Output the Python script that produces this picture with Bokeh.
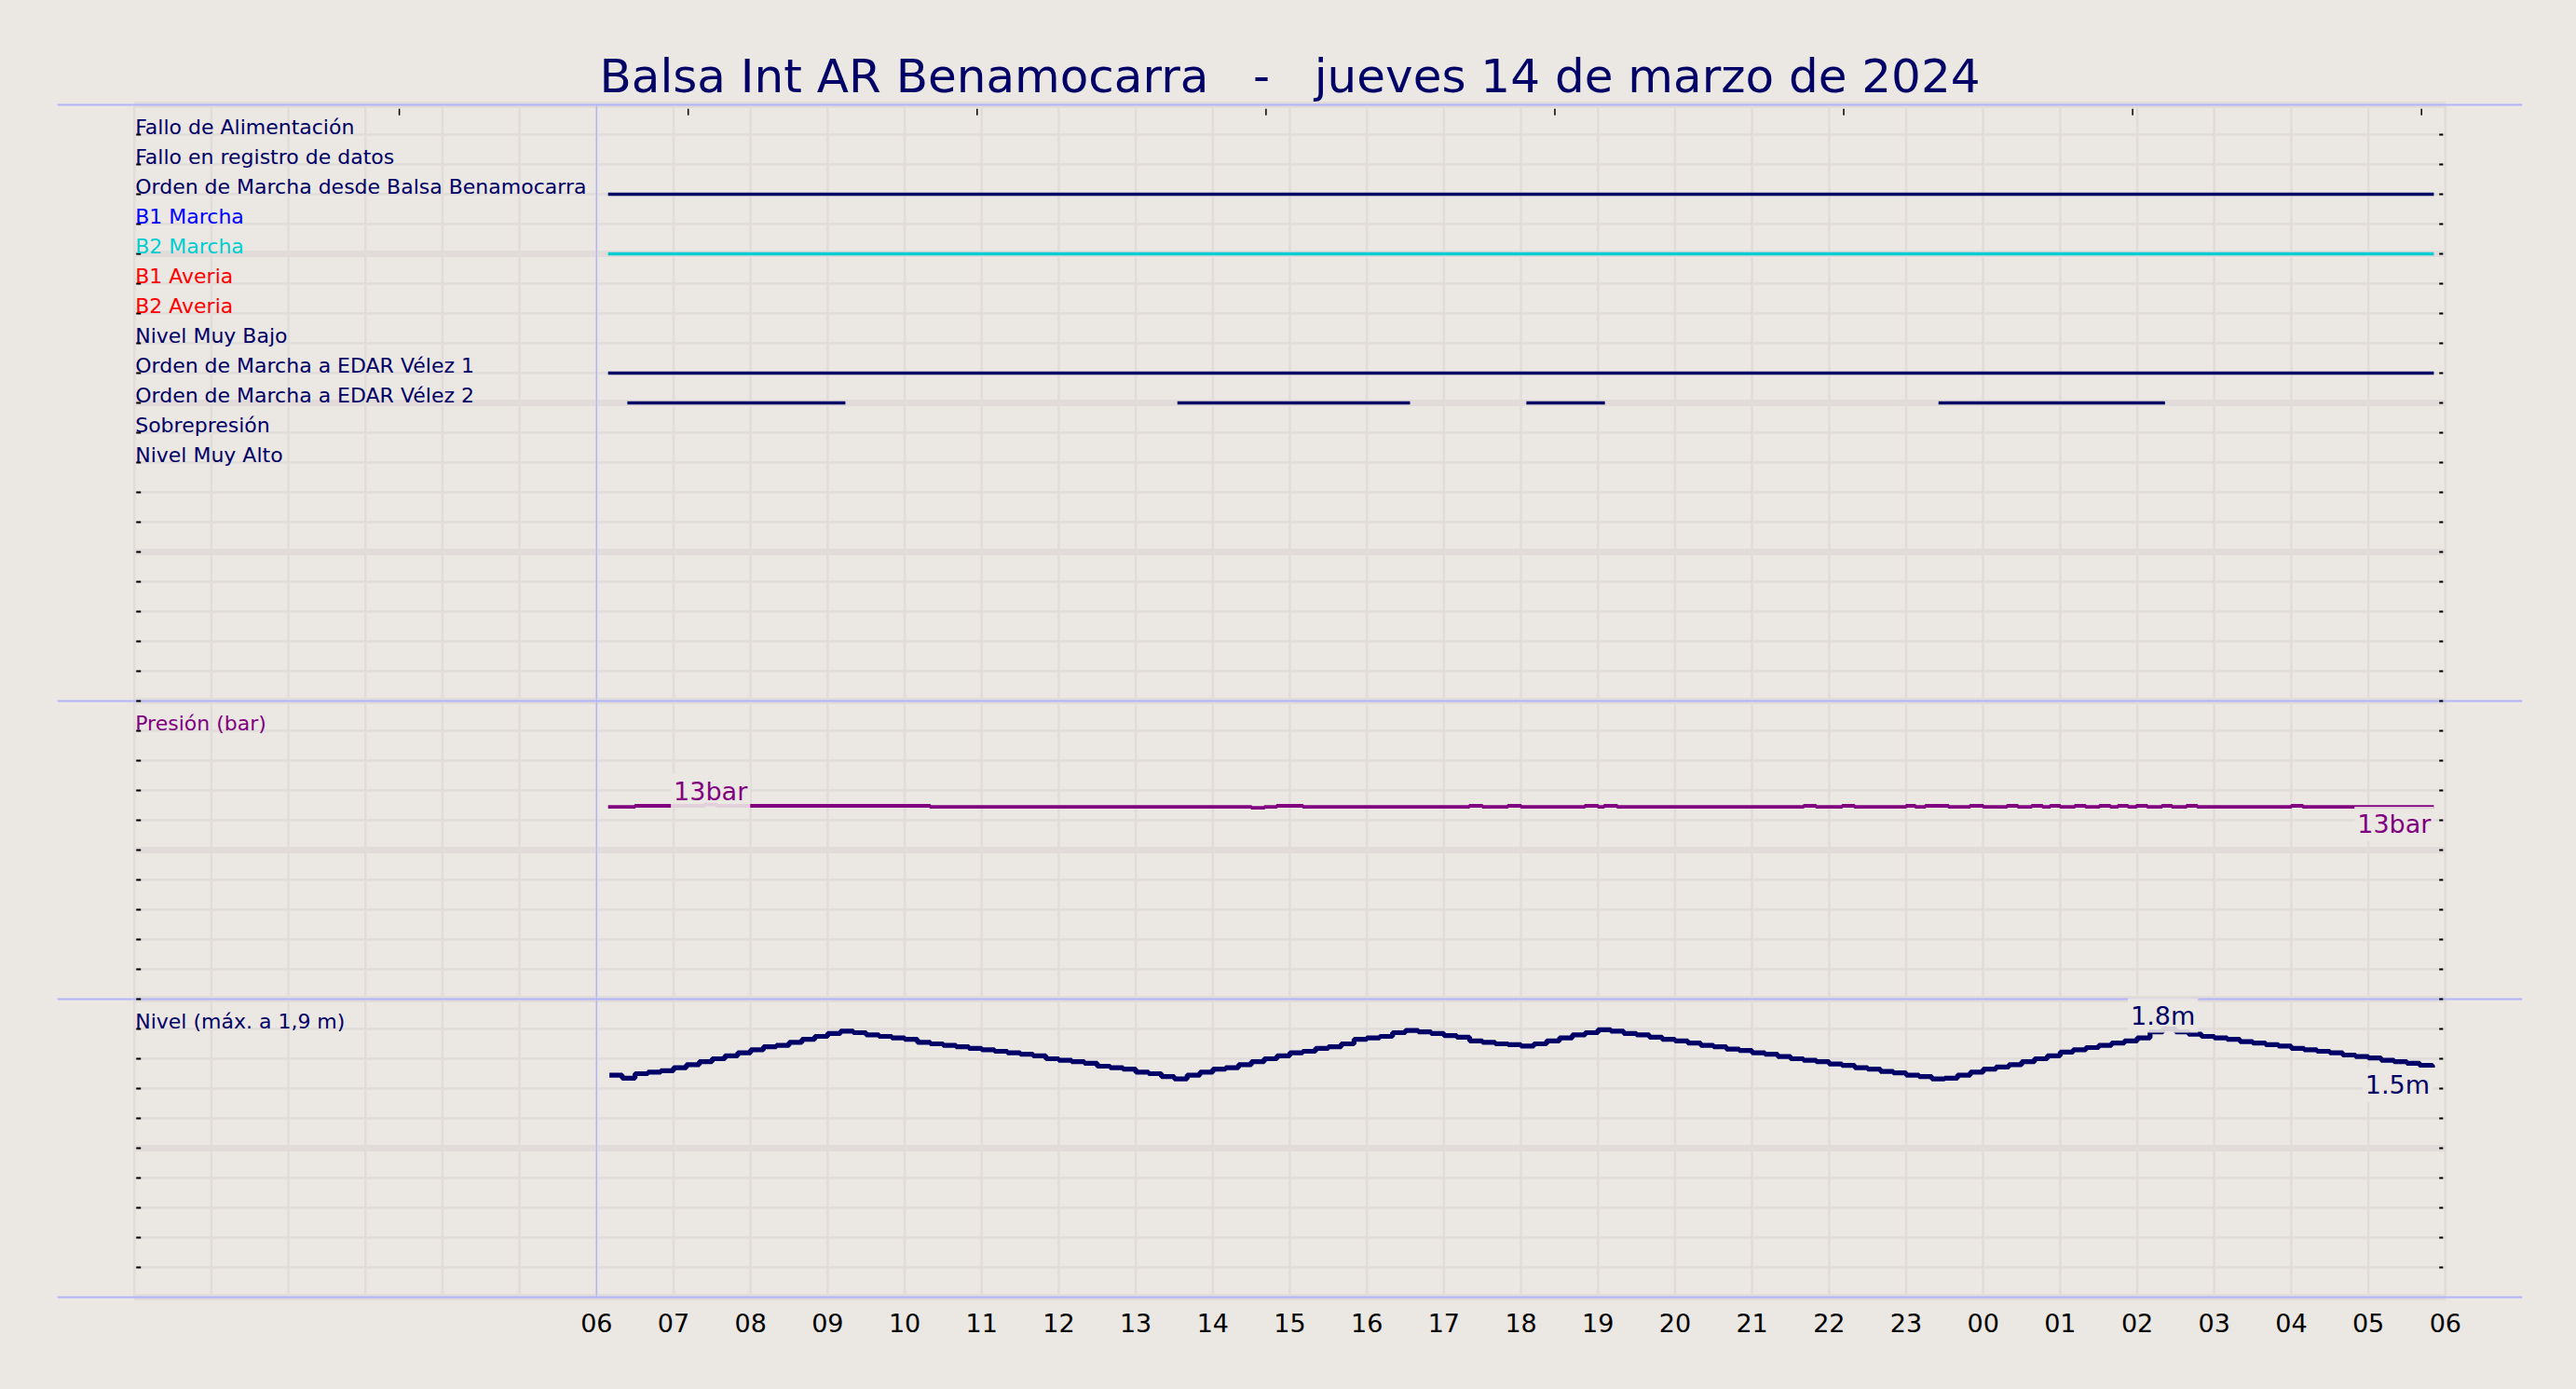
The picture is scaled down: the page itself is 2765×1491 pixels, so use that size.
from bokeh.plotting import figure
from bokeh.models import Range1d, FixedTicker, Label, GlobalInlineStyleSheet
from bokeh.core.properties import value
from bokeh.embed import file_html
from bokeh.resources import INLINE

# ---------------- data ----------------
NB = "\u00a0"
title_text = "Balsa Int AR Benamocarra " + NB * 2 + "-" + NB * 2 + " jueves 14 de marzo de 2024"

tick_hours = list(range(6, 31))
tick_labels = ["06", "07", "08", "09", "10", "11", "12", "13", "14", "15", "16", "17",
               "18", "19", "20", "21", "22", "23", "00", "01", "02", "03", "04", "05", "06"]

row_labels = ["Fallo de Alimentación", "Fallo en registro de datos",
              "Orden de Marcha desde Balsa Benamocarra", "B1 Marcha", "B2 Marcha",
              "B1 Averia", "B2 Averia", "Nivel Muy Bajo", "Orden de Marcha a EDAR Vélez 1",
              "Orden de Marcha a EDAR Vélez 2", "Sobrepresión", "Nivel Muy Alto"]
row_colors = ["#000066", "#000066", "#000066", "#0000ff", "#00ced1", "#ff0000",
              "#ff0000", "#000066", "#000066", "#000066", "#000066", "#000066"]

# digital signals: (start hour, end hour) since 00:00 of 14/03
orden_balsa_on = [(6.15, 29.85)]
b2_marcha_on = [(6.15, 29.85)]
edar1_on = [(6.15, 29.85)]
edar2_on = [(6.40, 9.23), (13.54, 16.56), (18.07, 19.09), (23.42, 26.36)]

# pressure (bar), step changes
pres_t = [6.15, 6.50, 7.40, 7.56, 10.33, 14.50, 14.67, 14.83, 15.17, 17.33, 17.50,
          17.83, 18.00, 18.83, 19.00, 19.08, 19.25, 21.67, 21.83, 22.17, 22.33,
          23.00, 23.12, 23.25, 23.55, 23.83, 24.00, 24.31, 24.45, 24.63, 24.77,
          24.87, 25.00, 25.19, 25.33, 25.51, 25.65, 25.75, 25.88, 25.99, 26.13,
          26.32, 26.45, 26.64, 26.78, 28.00, 28.15, 29.85]
pres_v = [12.90, 12.97, 13.05, 12.97, 12.90, 12.83, 12.90, 12.97, 12.90, 12.97, 12.90,
          12.97, 12.90, 12.97, 12.90, 12.97, 12.90, 12.97, 12.90, 12.97, 12.90,
          12.97, 12.90, 12.97, 12.90, 12.97, 12.90, 12.97, 12.90, 12.97, 12.90,
          12.97, 12.90, 12.97, 12.90, 12.97, 12.90, 12.97, 12.90, 12.97, 12.90,
          12.97, 12.90, 12.97, 12.90, 12.97, 12.90, 12.90]

# level (m), one reading every 10 minutes from 06:10 to 05:50
level_first_hour = 6 + 10 / 60
level_step_hours = 10 / 60
level_values = [
    1.49, 1.47, 1.50, 1.51, 1.52,            # 06:10-06:50
    1.54, 1.56, 1.58, 1.60, 1.62, 1.64,      # 07
    1.66, 1.68, 1.69, 1.71, 1.73, 1.75,      # 08
    1.77, 1.785, 1.775, 1.76, 1.75, 1.74,    # 09
    1.73, 1.71, 1.70, 1.69, 1.68, 1.67,      # 10
    1.66, 1.65, 1.64, 1.63, 1.62, 1.60,      # 11
    1.59, 1.58, 1.57, 1.55, 1.54, 1.53,      # 12
    1.51, 1.50, 1.48, 1.465, 1.49, 1.51,     # 13
    1.53, 1.54, 1.56, 1.58, 1.60, 1.62,      # 14
    1.64, 1.65, 1.67, 1.68, 1.70, 1.73,      # 15
    1.74, 1.75, 1.775, 1.79, 1.78, 1.77,     # 16
    1.755, 1.745, 1.72, 1.71, 1.70, 1.695,   # 17
    1.685, 1.70, 1.72, 1.74, 1.76, 1.775,    # 18
    1.795, 1.785, 1.77, 1.76, 1.745, 1.73,   # 19
    1.72, 1.705, 1.69, 1.68, 1.665, 1.655,   # 20
    1.64, 1.63, 1.615, 1.60, 1.59, 1.58,     # 21
    1.565, 1.555, 1.54, 1.53, 1.515, 1.505,  # 22
    1.49, 1.48, 1.465, 1.47, 1.49, 1.51,     # 23
    1.53, 1.545, 1.56, 1.58, 1.60, 1.62,     # 00
    1.645, 1.66, 1.675, 1.69, 1.705, 1.72,   # 01
    1.74, 1.78, 1.80, 1.78, 1.765, 1.75,     # 02
    1.74, 1.73, 1.715, 1.705, 1.695, 1.685,  # 03
    1.67, 1.66, 1.65, 1.64, 1.625, 1.615,    # 04
    1.605, 1.59, 1.58, 1.57, 1.555, 1.54,    # 05
]
level_t = [level_first_hour + i * level_step_hours for i in range(len(level_values))]

top_tick_hours = [3.44, 7.19, 10.94, 14.69, 18.44, 22.19, 25.94, 29.69]

# ---------------- style ----------------
BG = "#ebe7e2"
GRID = "#e1dcda"
SEP = "#b4b4fa"
NAVY = "#000066"
PURPLE = "#800080"
FONT = "DejaVu Sans"

p = figure(x_range=Range1d(-1, 31), y_range=Range1d(40.25, -3.25),
           frame_width=2646, frame_height=1392,
           min_border_left=61, min_border_right=40, min_border_top=8, min_border_bottom=60,
           y_axis_location=None, toolbar_location=None, output_backend="svg")
p.extra_y_ranges = {"pres": Range1d(-20.5, 66.5), "lvl": Range1d(-0.05, 8.65)}
p.background_fill_color = BG
p.border_fill_color = BG
p.outline_line_color = None
p.grid.visible = False
p.stylesheets = [GlobalInlineStyleSheet(css="html, body { background-color: #ebe7e2; }")]

# grid
units = list(range(41))
thin = [u for u in units if u % 5]
thick = [u for u in units if u % 5 == 0]
hours = list(range(31))
p.segment(x0=0, y0=thin, x1=30, y1=thin, line_color=GRID, line_width=2.3)
p.segment(x0=0, y0=thick, x1=30, y1=thick, line_color=GRID, line_width=7)
p.segment(x0=hours, y0=0, x1=hours, y1=40, line_color=GRID, line_width=2.5)

# separators
seps = [0, 20, 30, 40]
p.segment(x0=-1, y0=seps, x1=31, y1=seps, line_color=SEP, line_width=2)
p.segment(x0=6, y0=0, x1=6, y1=40, line_color=SEP, line_width=1.3)

# small ticks
inner = list(range(1, 40))
p.segment(x0=0.025, y0=inner, x1=0.085, y1=inner, line_color="black", line_width=2)
p.segment(x0=29.92, y0=inner, x1=29.97, y1=inner, line_color="black", line_width=2)
p.segment(x0=top_tick_hours, y0=0.13, x1=top_tick_hours, y1=0.35, line_color="black", line_width=1.5)

# row labels
rows = list(range(1, len(row_labels) + 1))
p.text(x=0, y=rows, text=row_labels, text_color=row_colors, text_font=value(FONT),
       text_font_size="22px", text_baseline="alphabetic", text_align="left",
       x_offset=1, y_offset=-8)
p.text(x=0, y=[21, 31], text=["Presión (bar)", "Nivel (máx. a 1,9 m)"],
       text_color=[PURPLE, NAVY], text_font=value(FONT), text_font_size="22px",
       text_baseline="alphabetic", text_align="left", x_offset=1, y_offset=-8)

# digital signals
signals = [(3, orden_balsa_on, NAVY), (5, b2_marcha_on, "#00ced1"),
           (9, edar1_on, NAVY), (10, edar2_on, NAVY)]
for row, ivs, col in signals:
    p.segment(x0=[a for a, b in ivs], y0=row, x1=[b for a, b in ivs], y1=row,
              line_color=col, line_width=3.5)

# pressure and level
p.step(pres_t, pres_v, mode="after", y_range_name="pres", line_color=PURPLE, line_width=3.8)
p.step(level_t, level_values, mode="after", y_range_name="lvl", line_color=NAVY, line_width=5.2)


def add_label(x, y, txt, rng, col, align, baseline, yoff):
    p.add_layout(Label(x=x, y=y, y_range_name=rng, text=txt, text_color=col,
                       text_font=FONT, text_font_size="27px", text_align=align,
                       text_baseline=baseline, background_fill_color=BG,
                       background_fill_alpha=0.9, padding=3, y_offset=yoff))


pmax = max(pres_v)
pi = pres_v.index(pmax)
add_label((pres_t[pi] + pres_t[pi + 1]) / 2, pmax, f"{round(pmax)}bar", "pres", PURPLE, "center", "bottom", -4)
add_label(pres_t[-1], pres_v[-1], f"{round(pres_v[-1])}bar", "pres", PURPLE, "right", "top", 0)
lmax = max(level_values)
li = len(level_values) - 1 - level_values[::-1].index(lmax)
add_label(level_t[li], lmax, f"{lmax:.1f}m", "lvl", NAVY, "center", "bottom", -4)
add_label(level_t[-1], level_values[-1], f"{level_values[-1]:.1f}m", "lvl", NAVY, "right", "top", 0)

# title
p.text(x=15, y=-0.44, text=[title_text], text_color=NAVY, text_font=value(FONT),
       text_font_size="50px", text_align="center", text_baseline="alphabetic", y_offset=-16)

# bottom axis
p.xaxis.ticker = FixedTicker(ticks=tick_hours)
p.xaxis.major_label_overrides = {h: lab for h, lab in zip(tick_hours, tick_labels)}
p.xaxis.axis_line_color = None
p.xaxis.major_tick_line_color = None
p.xaxis.minor_tick_line_color = None
p.xaxis.major_label_text_font = FONT
p.xaxis.major_label_text_font_size = "27px"
p.xaxis.major_label_text_color = "black"
p.xaxis.major_label_standoff = 3

open("out.html", "w").write(file_html(p, INLINE))
